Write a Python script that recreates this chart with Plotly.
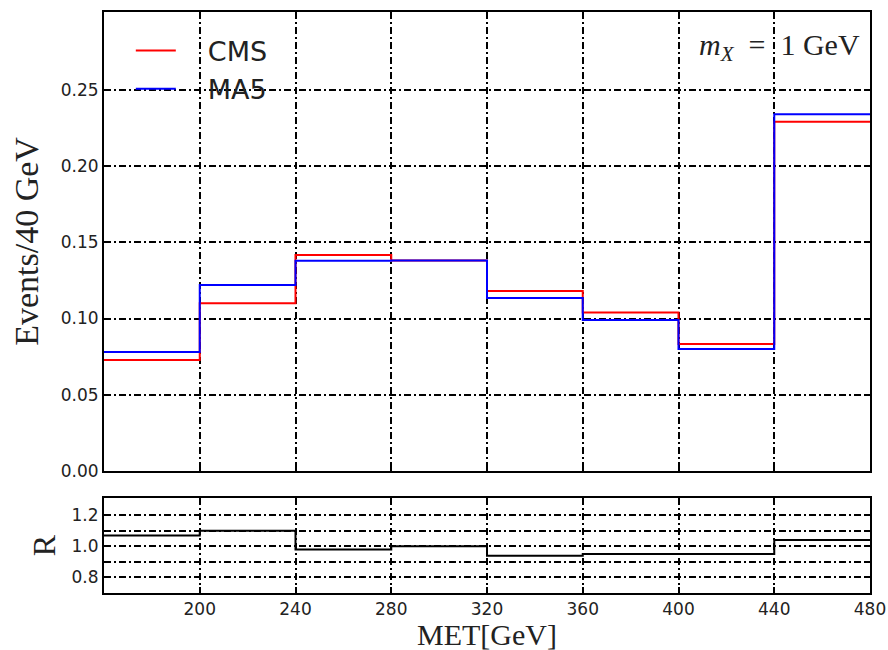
import plotly.graph_objects as go

# ---------------- data ----------------
bin_edges = [160, 200, 240, 280, 320, 360, 400, 440, 480]
cms_values = [0.0728, 0.110, 0.1417, 0.138, 0.118, 0.104, 0.0833, 0.229]
ma5_values = [0.078, 0.122, 0.1378, 0.138, 0.1135, 0.099, 0.080, 0.234]
ratio_values = [1.07, 1.10, 0.98, 1.00, 0.94, 0.95, 0.95, 1.04]

main_yticks = [0.00, 0.05, 0.10, 0.15, 0.20, 0.25]
ratio_yticks = [0.8, 1.0, 1.2]
ratio_minor_ticks = [0.9, 1.1]
ratio_xticks = [200, 240, 280, 320, 360, 400, 440, 480]

# ---------------- styling ----------------
SANS = "DejaVu Sans"
SERIF = "Liberation Serif"
GRID_DASH = "7px,3px,2px,3px"
GAP = "\u2003"

def step_y(vals):
    return list(vals) + [vals[-1]]

fig = go.Figure()

fig.add_trace(go.Scatter(
    x=bin_edges, y=step_y(cms_values), mode="lines", line_shape="hv",
    line=dict(color="red", width=2), name=GAP + "CMS", xaxis="x", yaxis="y"))
fig.add_trace(go.Scatter(
    x=bin_edges, y=step_y(ma5_values), mode="lines", line_shape="hv",
    line=dict(color="blue", width=2), name=GAP + "MA5", xaxis="x", yaxis="y"))
fig.add_trace(go.Scatter(
    x=bin_edges, y=step_y(ratio_values), mode="lines", line_shape="hv",
    line=dict(color="black", width=2), name="R", showlegend=False,
    xaxis="x2", yaxis="y2"))

common_axis = dict(
    showline=True, linecolor="black", linewidth=2, mirror="ticks",
    ticks="inside", ticklen=6, tickwidth=1.5, tickcolor="black",
    showgrid=True, gridcolor="black", gridwidth=1.5, griddash=GRID_DASH,
    zeroline=False, automargin=False,
    tickfont=dict(family=SANS, size=17, color="#222"),
)

fig.update_layout(
    width=888, height=650,
    margin=dict(l=104, r=18, t=12, b=57, autoexpand=False),
    plot_bgcolor="white", paper_bgcolor="white",
    xaxis=dict(common_axis, domain=[0, 1], anchor="y", range=[160, 480],
               tickvals=bin_edges, showticklabels=False),
    yaxis=dict(common_axis, domain=[0.21, 1.0], anchor="x", range=[0, 0.301],
               tickvals=main_yticks, tickformat=".2f",
               title=dict(text="Events/40 GeV", font=dict(family=SERIF, size=34, color="#222"),
                          standoff=12)),
    xaxis2=dict(common_axis, domain=[0, 1], anchor="y2", range=[160, 480],
                tickvals=ratio_xticks, ticklabelstandoff=0),
    yaxis2=dict(common_axis, domain=[0, 0.1635], anchor="x2", range=[0.7, 1.31],
                tickvals=ratio_yticks, tickformat=".1f",
                minor=dict(tickvals=ratio_minor_ticks, showgrid=True,
                           gridcolor="black", gridwidth=1.5, griddash=GRID_DASH,
                           ticks="inside", ticklen=6, tickcolor="black"),
                title=dict(text="R", font=dict(family=SERIF, size=32, color="#222"),
                           standoff=6)),
    legend=dict(x=0.035, y=0.975, xanchor="left", yanchor="top",
                bgcolor="rgba(0,0,0,0)", font=dict(family=SANS, size=27, color="#222"),
                itemwidth=40, tracegroupgap=0),
    annotations=[
        dict(text="<i>m</i><sub><i>X</i></sub>\u2002=\u20021 GeV", xref="paper", yref="paper",
             x=0.99, y=0.94, xanchor="right", yanchor="middle", showarrow=False,
             font=dict(family=SERIF, size=30, color="#222")),
        dict(text="MET[GeV]", xref="paper", yref="paper",
             x=0.5, y=-0.0413, xanchor="center", yanchor="top", showarrow=False,
             borderpad=0, font=dict(family=SERIF, size=30, color="#222")),
    ],
)

fig.write_html("out.html")
